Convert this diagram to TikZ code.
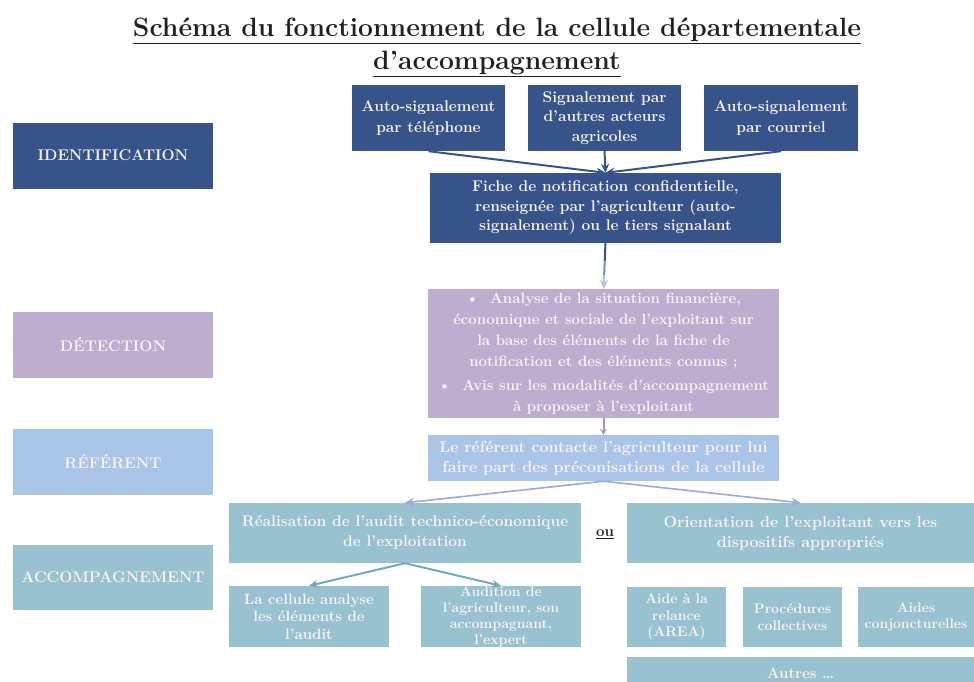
\documentclass[tikz,border=0pt]{standalone}
\usetikzlibrary{arrows.meta,calc}
\definecolor{dblue}{HTML}{36548A}
\definecolor{lav}{HTML}{BDAECF}
\definecolor{lblue}{HTML}{A9C5E8}
\definecolor{tealb}{HTML}{98C2CF}
\definecolor{txt}{HTML}{FBF1F4}
\definecolor{titlec}{HTML}{231F20}
\definecolor{midblue}{HTML}{6F8FC4}
\definecolor{lavarrow}{HTML}{A596C6}
\definecolor{refline}{HTML}{9EA8DA}
\definecolor{tealarrow}{HTML}{6FAABE}
\begin{document}
\begin{tikzpicture}[x=1pt,y=-1pt,
  box/.style={rectangle, inner sep=0pt, align=center, text=txt,
    font=\bfseries\fontsize{15}{20}\selectfont},
  bluebox/.style={box, fill=dblue},
  lavbox/.style={box, fill=lav},
  lbluebox/.style={box, fill=lblue},
  tealbox/.style={box, fill=tealb},
  labelbox/.style={box, minimum width=200pt, minimum height=66pt,
    font=\bfseries\fontsize{15.5}{20}\selectfont},
  arr/.style={-{Stealth[length=9pt,width=8pt]}, line width=2pt},
]
\useasboundingbox (0,0) rectangle (974,681);

% title
\node[align=center, text=titlec, font=\bfseries\fontsize{26.5}{33}\selectfont, inner sep=0pt]
  (title) at (497,47) {\underline{Schéma du fonctionnement de la cellule départementale}\\\underline{d’accompagnement}};

% left column
\node[labelbox, fill=dblue] (identL) at (113,155.5) {IDENTIFICATION};
\node[labelbox, fill=lav] (detL) at (113,345) {DÉTECTION};
\node[labelbox, fill=lblue] (refL) at (113,462) {RÉFÉRENT};
\node[labelbox, fill=tealb, minimum height=65pt] (accL) at (113,577.5) {ACCOMPAGNEMENT};

% identification
\node[bluebox, minimum width=153pt, minimum height=66pt, font=\bfseries\fontsize{15.5}{21}\selectfont] (tel) at (428.5,118) {Auto-signalement\\par téléphone};
\node[bluebox, minimum width=153pt, minimum height=66pt, font=\bfseries\fontsize{15.5}{19.5}\selectfont] (sig) at (604.5,118) {Signalement par\\d’autres acteurs\\agricoles};
\node[bluebox, minimum width=154pt, minimum height=66pt, font=\bfseries\fontsize{15.5}{21}\selectfont] (mail) at (781,118) {Auto-signalement\\par courriel};
\node[bluebox, minimum width=351pt, minimum height=70pt, font=\bfseries\fontsize{15.5}{19.5}\selectfont] (fiche) at (605.5,208) {Fiche de notification confidentielle,\\renseignée par l’agriculteur (auto-\\signalement) ou le tiers signalant};

% detection
\node[lavbox, minimum width=351pt, minimum height=129pt, font=\bfseries\fontsize{15}{21}\selectfont] (det) at (603.5,353.5)
  {\textbullet\ \ Analyse de la situation financière,\\économique et sociale de l’exploitant sur\\la base des éléments de la fiche de\\notification et des éléments connus ;\\[3pt]\textbullet\ \ Avis sur les modalités d’accompagnement\\à proposer à l’exploitant};

% referent
\node[lbluebox, minimum width=351pt, minimum height=46pt, font=\bfseries\fontsize{16}{20}\selectfont] (ref) at (603.5,458) {Le référent contacte l’agriculteur pour lui\\faire part des préconisations de la cellule};

% accompagnement
\node[tealbox, minimum width=352pt, minimum height=60pt, font=\bfseries\fontsize{15.5}{20}\selectfont] (real) at (405,533) {Réalisation de l’audit technico-économique\\de l’exploitation};
\node[tealbox, minimum width=347pt, minimum height=60pt, font=\bfseries\fontsize{16}{20}\selectfont] (orient) at (800.5,533) {Orientation de l’exploitant vers les\\dispositifs appropriés};
\node[inner sep=0pt, text=titlec, font=\bfseries\fontsize{15}{18}\selectfont] (ou) at (605,534) {\underline{ou}};

\node[tealbox, minimum width=160pt, minimum height=61pt, font=\bfseries\fontsize{15}{17.5}\selectfont] (cell) at (309,616.5) {La cellule analyse\\les éléments de\\l’audit};
\node[tealbox, minimum width=160pt, minimum height=61pt, font=\bfseries\fontsize{14}{16}\selectfont] (aud) at (501,616.5) {Audition de\\l’agriculteur, son\\accompagnant,\\l’expert};

\node[tealbox, minimum width=99pt, minimum height=60pt, font=\bfseries\fontsize{14}{16.5}\selectfont] (aide) at (676.5,617) {Aide à la\\relance\\(AREA)};
\node[tealbox, minimum width=99pt, minimum height=60pt, font=\bfseries\fontsize{14}{16.5}\selectfont] (proc) at (792.5,617) {Procédures\\collectives};
\node[tealbox, minimum width=116pt, minimum height=60pt, font=\bfseries\fontsize{14}{16.5}\selectfont] (conj) at (916,617) {Aides\\conjoncturelles};
\node[tealbox, minimum width=347pt, minimum height=33pt, font=\bfseries\fontsize{15}{18}\selectfont] (autres) at (800.5,673.5) {Autres \dots};

% connectors
\draw[arr, dblue] (tel.south) -- (fiche.north);
\draw[arr, dblue] (sig.south) -- (fiche.north);
\draw[arr, dblue] (mail.south) -- (fiche.north);

\coordinate (fa) at ($(fiche.south)!0.4!(det.north)$);
\coordinate (fb) at ($(fiche.south)!0.7!(det.north)$);
\draw[line width=2pt, dblue] (fiche.south) -- (fa);
\draw[line width=2pt, midblue] (fa) -- (fb);
\draw[arr, lblue] (fb) -- (det.north);

\draw[arr, lavarrow, -{Stealth[length=6pt,width=7pt]}] (det.south) -- (ref.north);

\draw[arr, refline, line width=1.6pt] (ref.south) -- (real.north);
\draw[arr, refline, line width=1.6pt] (ref.south) -- (orient.north);

\draw[arr, tealarrow] (real.south) -- (cell.north);
\draw[arr, tealarrow] (real.south) -- (aud.north);
\end{tikzpicture}
\end{document}
